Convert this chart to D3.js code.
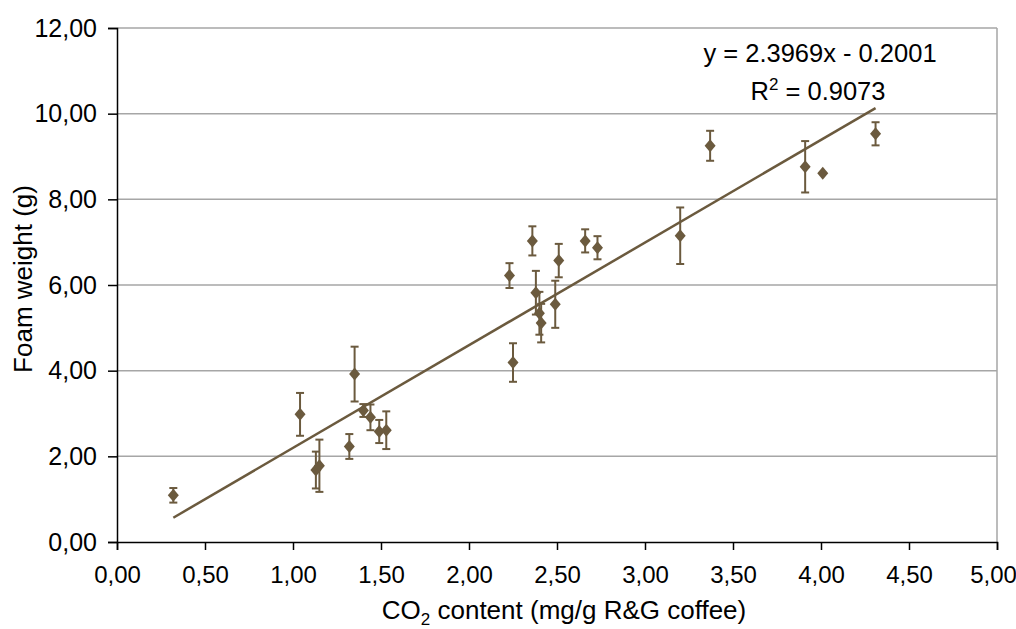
<!DOCTYPE html>
<html>
<head>
<meta charset="utf-8">
<script src="https://d3js.org/d3.v7.min.js"></script>
<style>
  body { margin: 0; background: #fff; }
  text { font-family: "Liberation Sans", Arial, sans-serif; fill: #000; }
</style>
</head>
<body>
<div id="chart"></div>
<script>
// CO2 content (mg/g) vs foam weight (g), with std error bars
var co2 = [0.32, 1.04, 1.13, 1.15, 1.32, 1.35, 1.40, 1.44, 1.49, 1.53,
           2.23, 2.25, 2.36, 2.38, 2.40, 2.41, 2.49, 2.51, 2.66, 2.73,
           3.20, 3.37, 3.91, 4.01, 4.31];
var foam = [1.09, 2.98, 1.68, 1.78, 2.23, 3.92, 3.07, 2.91, 2.58, 2.61,
            6.22, 4.19, 7.03, 5.82, 5.34, 5.11, 5.55, 6.57, 7.03, 6.87,
            7.15, 9.25, 8.76, 8.61, 9.53];
var err = [0.17, 0.50, 0.43, 0.61, 0.29, 0.64, 0.15, 0.30, 0.27, 0.44,
           0.29, 0.45, 0.34, 0.51, 0.50, 0.45, 0.55, 0.39, 0.27, 0.27,
           0.66, 0.35, 0.60, 0, 0.27];
var xTicks = [0, 0.5, 1, 1.5, 2, 2.5, 3, 3.5, 4, 4.5, 5];
var yTicks = [0, 2, 4, 6, 8, 10, 12];
var slope = 2.3969, intercept = -0.2001, r2 = 0.9073;

var W = 1016, H = 629;
var margin = {top: 28, right: 19, bottom: 87, left: 117};
var width = W - margin.left - margin.right,
    height = H - margin.top - margin.bottom;
var col = "#6b5a3e";
var fmt = function(d){ return d3.format(".2f")(d).replace(".", ","); };

var svg = d3.select("#chart").append("svg")
    .attr("width", W).attr("height", H);
var g = svg.append("g")
    .attr("transform", "translate(" + margin.left + "," + margin.top + ")");

var x = d3.scaleLinear().domain([0, 5]).range([0, width]);
var y = d3.scaleLinear().domain([0, 12]).range([height, 0]);

// gridlines
g.selectAll(".grid").data(yTicks.slice(1)).enter().append("line")
    .attr("x1", 0).attr("x2", width)
    .attr("y1", d => y(d)).attr("y2", d => y(d))
    .style("stroke", "#a6a6a6").style("stroke-width", 1.5);
g.append("line")
    .attr("x1", width).attr("x2", width).attr("y1", 0).attr("y2", height)
    .style("stroke", "#a6a6a6").style("stroke-width", 1.5);

// axes
var xAxis = g.append("g").attr("transform", "translate(0," + height + ")")
    .call(d3.axisBottom(x).tickValues(xTicks).tickFormat(fmt).tickSize(8).tickPadding(16));
var yAxis = g.append("g")
    .call(d3.axisLeft(y).tickValues(yTicks).tickFormat(fmt).tickSize(9).tickPadding(11));
[xAxis, yAxis].forEach(function(a){
    a.select(".domain").style("stroke", "#000").style("stroke-width", 1.5);
    a.selectAll(".tick line").style("stroke", "#000").style("stroke-width", 1.5);
    a.selectAll("text").style("font-size", "24px").style("font-family", "Liberation Sans, Arial, sans-serif");
});
yAxis.selectAll("text").style("font-size", "25px");
// keep the last label inside the frame
xAxis.selectAll(".tick text").filter(d => d === 5).attr("dx", -4);

// trendline across data range
var xmin = d3.min(co2), xmax = d3.max(co2);
g.append("line")
    .attr("x1", x(xmin)).attr("y1", y(slope * xmin + intercept))
    .attr("x2", x(xmax)).attr("y2", y(slope * xmax + intercept))
    .style("stroke", col).style("stroke-width", 2.5);

// error bars
var pts = co2.map((d, i) => ({x: d, y: foam[i], e: err[i]}));
var eb = g.selectAll(".eb").data(pts.filter(d => d.e > 0)).enter().append("g");
eb.append("line")
    .attr("x1", d => x(d.x)).attr("x2", d => x(d.x))
    .attr("y1", d => y(d.y - d.e)).attr("y2", d => y(d.y + d.e));
eb.append("line")
    .attr("x1", d => x(d.x) - 4).attr("x2", d => x(d.x) + 4)
    .attr("y1", d => y(d.y + d.e)).attr("y2", d => y(d.y + d.e));
eb.append("line")
    .attr("x1", d => x(d.x) - 4).attr("x2", d => x(d.x) + 4)
    .attr("y1", d => y(d.y - d.e)).attr("y2", d => y(d.y - d.e));
eb.selectAll("line").style("stroke", col).style("stroke-width", 2);

// diamond markers
g.selectAll(".pt").data(pts).enter().append("path")
    .attr("d", "M0,-6.5L5.5,0L0,6.5L-5.5,0Z")
    .attr("transform", d => "translate(" + x(d.x) + "," + y(d.y) + ")")
    .style("fill", col);

// equation
var eq = g.append("text").attr("x", 820 - margin.left).attr("y", 62 - margin.top)
    .attr("text-anchor", "middle").style("font-size", "25.5px")
    .text("y = " + slope + "x - " + (-intercept).toFixed(4));
var rt = g.append("text").attr("x", 818 - margin.left).attr("y", 100 - margin.top)
    .attr("text-anchor", "middle").style("font-size", "25.5px");
rt.append("tspan").text("R");
rt.append("tspan").attr("dy", -10).style("font-size", "17px").text("2");
rt.append("tspan").attr("dy", 10).text(" = " + r2);

// axis titles
var xt = svg.append("text").attr("x", 564).attr("y", 619)
    .attr("text-anchor", "middle").style("font-size", "26px");
xt.append("tspan").text("CO");
xt.append("tspan").attr("dy", 6).style("font-size", "17px").text("2");
xt.append("tspan").attr("dy", -6).text(" content (mg/g R&G coffee)");

svg.append("text")
    .attr("transform", "translate(32,279) rotate(-90)")
    .attr("text-anchor", "middle").style("font-size", "26px")
    .text("Foam weight (g)");
</script>
</body>
</html>
